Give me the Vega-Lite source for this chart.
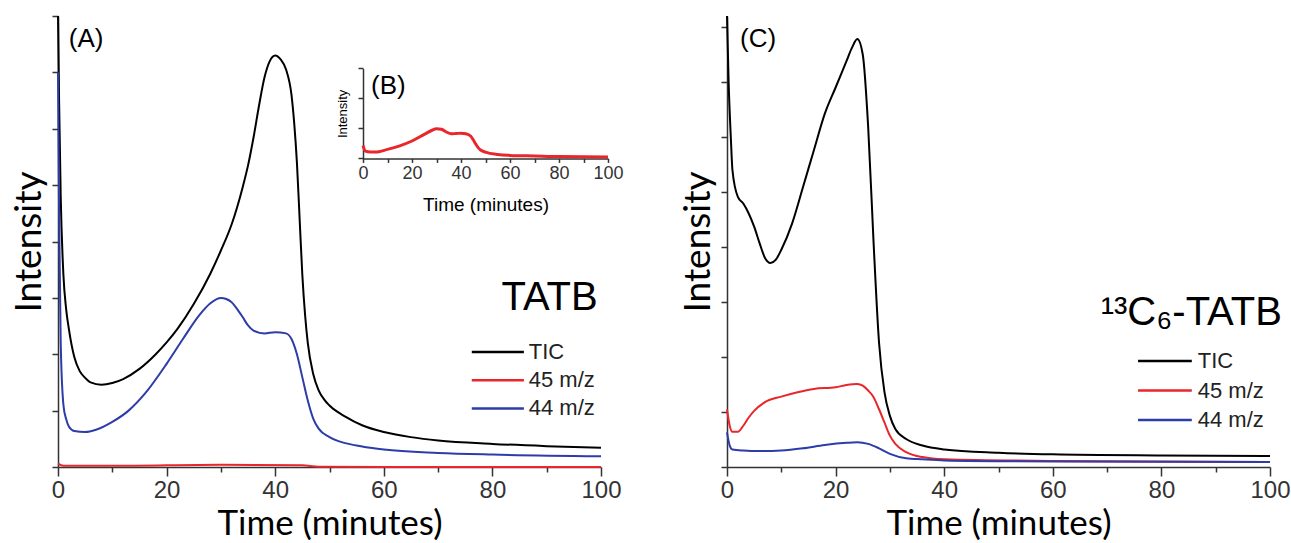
{
  "$schema": "https://vega.github.io/schema/vega-lite/v6.json",
  "background": "white",
  "padding": {"left": 10, "top": 12, "right": 0, "bottom": 0},
  "config": {
    "view": {"stroke": null},
    "axis": {"domainColor": "#333", "tickColor": "#333", "labelColor": "#333", "titleColor": "#000", "grid": false, "titleFontWeight": "normal", "domainWidth": 1.5, "tickWidth": 1.5, "labelFlush": false},
    "text": {"font": "Liberation Sans", "color": "#000"}
  },
  "datasets": {
    "A": [
      {"s": "TIC", "t": 0, "v": 8.0}, {"s": "TIC", "t": 0.2, "v": 6.5}, {"s": "TIC", "t": 0.5, "v": 4.8}, {"s": "TIC", "t": 1, "v": 3.4}, {"s": "TIC", "t": 1.5, "v": 2.8}, {"s": "TIC", "t": 2, "v": 2.45}, {"s": "TIC", "t": 3, "v": 1.95}, {"s": "TIC", "t": 4, "v": 1.7}, {"s": "TIC", "t": 5, "v": 1.58}, {"s": "TIC", "t": 6, "v": 1.5}, {"s": "TIC", "t": 8, "v": 1.46}, {"s": "TIC", "t": 10, "v": 1.49}, {"s": "TIC", "t": 12, "v": 1.56}, {"s": "TIC", "t": 15, "v": 1.74}, {"s": "TIC", "t": 18, "v": 2.0}, {"s": "TIC", "t": 20, "v": 2.21}, {"s": "TIC", "t": 22, "v": 2.45}, {"s": "TIC", "t": 25, "v": 2.89}, {"s": "TIC", "t": 28, "v": 3.42}, {"s": "TIC", "t": 30, "v": 3.84}, {"s": "TIC", "t": 32, "v": 4.31}, {"s": "TIC", "t": 34, "v": 4.96}, {"s": "TIC", "t": 35, "v": 5.35}, {"s": "TIC", "t": 36, "v": 5.84}, {"s": "TIC", "t": 37, "v": 6.4}, {"s": "TIC", "t": 38, "v": 6.9}, {"s": "TIC", "t": 39, "v": 7.2}, {"s": "TIC", "t": 40, "v": 7.3}, {"s": "TIC", "t": 41, "v": 7.23}, {"s": "TIC", "t": 42, "v": 7.05}, {"s": "TIC", "t": 43, "v": 6.6}, {"s": "TIC", "t": 43.5, "v": 6.1}, {"s": "TIC", "t": 44, "v": 5.4}, {"s": "TIC", "t": 44.5, "v": 4.4}, {"s": "TIC", "t": 45, "v": 3.4}, {"s": "TIC", "t": 45.5, "v": 2.7}, {"s": "TIC", "t": 46, "v": 2.2}, {"s": "TIC", "t": 47, "v": 1.65}, {"s": "TIC", "t": 48, "v": 1.36}, {"s": "TIC", "t": 49, "v": 1.2}, {"s": "TIC", "t": 50, "v": 1.09}, {"s": "TIC", "t": 53, "v": 0.89}, {"s": "TIC", "t": 56, "v": 0.74}, {"s": "TIC", "t": 60, "v": 0.62}, {"s": "TIC", "t": 65, "v": 0.53}, {"s": "TIC", "t": 70, "v": 0.47}, {"s": "TIC", "t": 80, "v": 0.41}, {"s": "TIC", "t": 90, "v": 0.37}, {"s": "TIC", "t": 100, "v": 0.34},
      {"s": "45 m/z", "t": 0, "v": 0.06}, {"s": "45 m/z", "t": 1, "v": 0.02}, {"s": "45 m/z", "t": 10, "v": 0.02}, {"s": "45 m/z", "t": 30, "v": 0.04}, {"s": "45 m/z", "t": 45, "v": 0.03}, {"s": "45 m/z", "t": 48, "v": 0.005}, {"s": "45 m/z", "t": 60, "v": 0}, {"s": "45 m/z", "t": 100, "v": 0},
      {"s": "44 m/z", "t": 0, "v": 7.0}, {"s": "44 m/z", "t": 0.2, "v": 4.5}, {"s": "44 m/z", "t": 0.5, "v": 2.2}, {"s": "44 m/z", "t": 1, "v": 1.1}, {"s": "44 m/z", "t": 1.5, "v": 0.85}, {"s": "44 m/z", "t": 2, "v": 0.72}, {"s": "44 m/z", "t": 3, "v": 0.64}, {"s": "44 m/z", "t": 5, "v": 0.62}, {"s": "44 m/z", "t": 7, "v": 0.66}, {"s": "44 m/z", "t": 10, "v": 0.8}, {"s": "44 m/z", "t": 13, "v": 1.0}, {"s": "44 m/z", "t": 16, "v": 1.3}, {"s": "44 m/z", "t": 20, "v": 1.83}, {"s": "44 m/z", "t": 23, "v": 2.27}, {"s": "44 m/z", "t": 26, "v": 2.69}, {"s": "44 m/z", "t": 28, "v": 2.9}, {"s": "44 m/z", "t": 30, "v": 3.0}, {"s": "44 m/z", "t": 31, "v": 2.98}, {"s": "44 m/z", "t": 32, "v": 2.92}, {"s": "44 m/z", "t": 33, "v": 2.8}, {"s": "44 m/z", "t": 34, "v": 2.66}, {"s": "44 m/z", "t": 35, "v": 2.51}, {"s": "44 m/z", "t": 36, "v": 2.42}, {"s": "44 m/z", "t": 38, "v": 2.37}, {"s": "44 m/z", "t": 40, "v": 2.39}, {"s": "44 m/z", "t": 42, "v": 2.37}, {"s": "44 m/z", "t": 43, "v": 2.27}, {"s": "44 m/z", "t": 44, "v": 2.0}, {"s": "44 m/z", "t": 45, "v": 1.59}, {"s": "44 m/z", "t": 46, "v": 1.18}, {"s": "44 m/z", "t": 47, "v": 0.86}, {"s": "44 m/z", "t": 48, "v": 0.68}, {"s": "44 m/z", "t": 50, "v": 0.53}, {"s": "44 m/z", "t": 55, "v": 0.38}, {"s": "44 m/z", "t": 60, "v": 0.31}, {"s": "44 m/z", "t": 70, "v": 0.25}, {"s": "44 m/z", "t": 80, "v": 0.22}, {"s": "44 m/z", "t": 100, "v": 0.19}
    ],
    "B": [
      {"t": 0, "v": 0.43}, {"t": 1, "v": 0.24}, {"t": 3, "v": 0.21}, {"t": 5, "v": 0.21}, {"t": 10, "v": 0.3}, {"t": 15, "v": 0.42}, {"t": 20, "v": 0.58}, {"t": 25, "v": 0.8}, {"t": 28, "v": 0.93}, {"t": 30, "v": 0.99}, {"t": 32, "v": 0.97}, {"t": 34, "v": 0.88}, {"t": 36, "v": 0.82}, {"t": 38, "v": 0.83}, {"t": 40, "v": 0.84}, {"t": 42, "v": 0.82}, {"t": 44, "v": 0.74}, {"t": 45, "v": 0.62}, {"t": 46, "v": 0.48}, {"t": 47, "v": 0.36}, {"t": 48, "v": 0.28}, {"t": 50, "v": 0.21}, {"t": 55, "v": 0.13}, {"t": 60, "v": 0.1}, {"t": 70, "v": 0.08}, {"t": 80, "v": 0.06}, {"t": 100, "v": 0.05}
    ],
    "C": [
      {"s": "TIC", "t": 0, "v": 8.2}, {"s": "TIC", "t": 0.3, "v": 7.0}, {"s": "TIC", "t": 0.7, "v": 6.0}, {"s": "TIC", "t": 1, "v": 5.4}, {"s": "TIC", "t": 2, "v": 4.91}, {"s": "TIC", "t": 3, "v": 4.79}, {"s": "TIC", "t": 4, "v": 4.61}, {"s": "TIC", "t": 5, "v": 4.37}, {"s": "TIC", "t": 6, "v": 4.07}, {"s": "TIC", "t": 7, "v": 3.8}, {"s": "TIC", "t": 8, "v": 3.71}, {"s": "TIC", "t": 9, "v": 3.77}, {"s": "TIC", "t": 10, "v": 3.95}, {"s": "TIC", "t": 12, "v": 4.43}, {"s": "TIC", "t": 14, "v": 5.09}, {"s": "TIC", "t": 16, "v": 5.76}, {"s": "TIC", "t": 18, "v": 6.42}, {"s": "TIC", "t": 20, "v": 6.9}, {"s": "TIC", "t": 22, "v": 7.38}, {"s": "TIC", "t": 23, "v": 7.62}, {"s": "TIC", "t": 24, "v": 7.78}, {"s": "TIC", "t": 25, "v": 7.5}, {"s": "TIC", "t": 26, "v": 6.18}, {"s": "TIC", "t": 27, "v": 4.07}, {"s": "TIC", "t": 28, "v": 2.26}, {"s": "TIC", "t": 29, "v": 1.36}, {"s": "TIC", "t": 30, "v": 0.93}, {"s": "TIC", "t": 31, "v": 0.69}, {"s": "TIC", "t": 33, "v": 0.51}, {"s": "TIC", "t": 36, "v": 0.39}, {"s": "TIC", "t": 40, "v": 0.32}, {"s": "TIC", "t": 50, "v": 0.26}, {"s": "TIC", "t": 60, "v": 0.23}, {"s": "TIC", "t": 80, "v": 0.21}, {"s": "TIC", "t": 100, "v": 0.2},
      {"s": "45 m/z", "t": 0, "v": 1.05}, {"s": "45 m/z", "t": 0.5, "v": 0.75}, {"s": "45 m/z", "t": 1, "v": 0.64}, {"s": "45 m/z", "t": 2, "v": 0.64}, {"s": "45 m/z", "t": 3, "v": 0.75}, {"s": "45 m/z", "t": 4, "v": 0.9}, {"s": "45 m/z", "t": 5, "v": 1.02}, {"s": "45 m/z", "t": 7, "v": 1.18}, {"s": "45 m/z", "t": 10, "v": 1.28}, {"s": "45 m/z", "t": 13, "v": 1.36}, {"s": "45 m/z", "t": 16, "v": 1.42}, {"s": "45 m/z", "t": 20, "v": 1.45}, {"s": "45 m/z", "t": 22, "v": 1.49}, {"s": "45 m/z", "t": 24, "v": 1.51}, {"s": "45 m/z", "t": 25, "v": 1.48}, {"s": "45 m/z", "t": 26, "v": 1.39}, {"s": "45 m/z", "t": 27, "v": 1.27}, {"s": "45 m/z", "t": 28, "v": 1.05}, {"s": "45 m/z", "t": 29, "v": 0.81}, {"s": "45 m/z", "t": 30, "v": 0.57}, {"s": "45 m/z", "t": 31, "v": 0.42}, {"s": "45 m/z", "t": 33, "v": 0.27}, {"s": "45 m/z", "t": 36, "v": 0.18}, {"s": "45 m/z", "t": 40, "v": 0.14}, {"s": "45 m/z", "t": 60, "v": 0.11}, {"s": "45 m/z", "t": 100, "v": 0.09},
      {"s": "44 m/z", "t": 0, "v": 0.63}, {"s": "44 m/z", "t": 0.5, "v": 0.39}, {"s": "44 m/z", "t": 1, "v": 0.32}, {"s": "44 m/z", "t": 3, "v": 0.3}, {"s": "44 m/z", "t": 6, "v": 0.29}, {"s": "44 m/z", "t": 10, "v": 0.3}, {"s": "44 m/z", "t": 14, "v": 0.34}, {"s": "44 m/z", "t": 18, "v": 0.4}, {"s": "44 m/z", "t": 22, "v": 0.44}, {"s": "44 m/z", "t": 24, "v": 0.45}, {"s": "44 m/z", "t": 26, "v": 0.42}, {"s": "44 m/z", "t": 28, "v": 0.34}, {"s": "44 m/z", "t": 30, "v": 0.24}, {"s": "44 m/z", "t": 33, "v": 0.16}, {"s": "44 m/z", "t": 36, "v": 0.14}, {"s": "44 m/z", "t": 40, "v": 0.12}, {"s": "44 m/z", "t": 60, "v": 0.1}, {"s": "44 m/z", "t": 100, "v": 0.09}
    ],
    "series": [{"s": "TIC"}, {"s": "45 m/z"}, {"s": "44 m/z"}]
  },
  "spacing": 126,
  "bounds": "flush",
  "hconcat": [
    {
      "width": 543,
      "height": 451,
      "layer": [
        {
          "layer": [
            {
              "data": {"name": "A"},
              "mark": {"type": "line", "strokeWidth": 2, "interpolate": "monotone"},
              "encoding": {
                "x": {"field": "t", "type": "quantitative", "scale": {"domain": [0, 100], "nice": false},
                  "axis": {"title": "Time (minutes)", "values": [0, 10, 20, 30, 40, 50, 60, 70, 80, 90, 100], "labelExpr": "datum.value % 20 === 0 ? datum.label : ''", "tickSize": {"condition": {"test": "datum.value % 20 === 0", "value": 9}, "value": 5}, "labelFont": "Liberation Sans", "labelFontSize": 24, "labelPadding": 2, "titleFont": "Lato", "titleFontSize": 35, "titlePadding": 4}},
                "y": {"field": "v", "type": "quantitative", "scale": {"domain": [0, 8], "nice": false},
                  "axis": {"title": "Intensity", "values": [0, 1, 2, 3, 4, 5, 6, 7, 8], "labels": false, "tickSize": 6, "titleFont": "Lato", "titleFontSize": 37, "titlePadding": 3}},
                "color": {"field": "s", "type": "nominal", "scale": {"domain": ["TIC", "45 m/z", "44 m/z"], "range": ["#000000", "#e8262b", "#2c3ca8"]}, "legend": null}
              }
            },
            {
              "data": {"values": [{}]},
              "mark": {"type": "text", "fontSize": 26, "align": "left", "baseline": "middle"},
              "encoding": {"x": {"datum": 2}, "y": {"datum": 7.6}, "text": {"value": "(A)"}}
            },
            {
              "data": {"values": [{}]},
              "mark": {"type": "text", "fontSize": 40, "align": "right", "baseline": "middle"},
              "encoding": {"x": {"datum": 99.4}, "y": {"datum": 2.99}, "text": {"value": "TATB"}}
            }
          ]
        },
        {
          "layer": [
            {
              "data": {"name": "B"},
              "mark": {"type": "line", "strokeWidth": 3, "color": "#e8262b", "interpolate": "monotone"},
              "encoding": {
                "x": {"field": "t", "type": "quantitative", "scale": {"domain": [0, 100], "range": [305, 550], "nice": false},
                  "axis": {"orient": "bottom", "offset": -308.6, "title": "Time (minutes)", "values": [0, 10, 20, 30, 40, 50, 60, 70, 80, 90, 100], "labelExpr": "datum.value % 20 === 0 ? datum.label : ''", "tickSize": 4, "labelFont": "Liberation Sans", "labelFontSize": 18, "labelPadding": 2, "titleFont": "Liberation Sans", "titleFontSize": 19, "titlePadding": 13}},
                "y": {"field": "v", "type": "quantitative", "scale": {"domain": [0, 3], "range": [142.4, 52.4], "nice": false},
                  "axis": {"orient": "left", "offset": -305, "title": "Intensity", "values": [0, 1, 2, 3], "labels": false, "tickSize": 5, "titleFont": "Liberation Sans", "titleFontSize": 13, "titlePadding": 8}}
              }
            },
            {
              "data": {"values": [{}]},
              "mark": {"type": "text", "fontSize": 26, "align": "left", "baseline": "middle"},
              "encoding": {"x": {"datum": 3.3}, "y": {"datum": 2.4}, "text": {"value": "(B)"}}
            }
          ]
        },
        {
          "data": {"name": "series"},
          "encoding": {
            "y": {"field": "s", "type": "nominal", "sort": null, "scale": {"type": "point", "padding": 0, "domain": ["TIC", "45 m/z", "44 m/z"], "range": [336.1, 392.4]}, "axis": null},
            "color": {"field": "s", "type": "nominal", "scale": {"domain": ["TIC", "45 m/z", "44 m/z"], "range": ["#000000", "#e8262b", "#2c3ca8"]}, "legend": null}
          },
          "layer": [
            {
              "mark": {"type": "rule", "strokeWidth": 2.5},
              "encoding": {
                "x": {"datum": 76.2, "scale": {"domain": [0, 100], "nice": false}, "axis": null},
                "x2": {"datum": 85.8}
              }
            },
            {
              "mark": {"type": "text", "fontSize": 22, "align": "left", "baseline": "middle", "color": "#222"},
              "encoding": {
                "x": {"datum": 86.7, "scale": {"domain": [0, 100], "nice": false}, "axis": null},
                "text": {"field": "s"},
                "color": {"value": "#222"}
              }
            }
          ]
        }
      ],
      "resolve": {"scale": {"x": "independent", "y": "independent"}}
    },
    {
      "width": 543,
      "height": 451,
      "layer": [
        {
          "layer": [
            {
              "data": {"name": "C"},
              "mark": {"type": "line", "strokeWidth": 2, "interpolate": "monotone"},
              "encoding": {
                "x": {"field": "t", "type": "quantitative", "scale": {"domain": [0, 100], "nice": false},
                  "axis": {"title": "Time (minutes)", "values": [0, 10, 20, 30, 40, 50, 60, 70, 80, 90, 100], "labelExpr": "datum.value % 20 === 0 ? datum.label : ''", "tickSize": {"condition": {"test": "datum.value % 20 === 0", "value": 9}, "value": 5}, "labelFont": "Liberation Sans", "labelFontSize": 24, "labelPadding": 2, "titleFont": "Lato", "titleFontSize": 35, "titlePadding": 4}},
                "y": {"field": "v", "type": "quantitative", "scale": {"domain": [0, 8.2], "nice": false},
                  "axis": {"title": "Intensity", "values": [0, 1, 2, 3, 4, 5, 6, 7, 8], "labels": false, "tickSize": 6, "titleFont": "Lato", "titleFontSize": 37, "titlePadding": 3}},
                "color": {"field": "s", "type": "nominal", "scale": {"domain": ["TIC", "45 m/z", "44 m/z"], "range": ["#000000", "#e8262b", "#2c3ca8"]}, "legend": null}
              }
            },
            {
              "data": {"values": [{}]},
              "mark": {"type": "text", "fontSize": 26, "align": "left", "baseline": "middle"},
              "encoding": {"x": {"datum": 2.4}, "y": {"datum": 7.78}, "text": {"value": "(C)"}}
            },
            {
              "data": {"values": [{}]},
              "mark": {"type": "text", "fontSize": 40, "align": "right", "baseline": "middle"},
              "encoding": {"x": {"datum": 102.2}, "y": {"datum": 2.8}, "text": {"value": "¹³C₆-TATB"}}
            }
          ]
        },
        {
          "data": {"name": "series"},
          "encoding": {
            "y": {"field": "s", "type": "nominal", "sort": null, "scale": {"type": "point", "padding": 0, "domain": ["TIC", "45 m/z", "44 m/z"], "range": [345, 404]}, "axis": null},
            "color": {"field": "s", "type": "nominal", "scale": {"domain": ["TIC", "45 m/z", "44 m/z"], "range": ["#000000", "#e8262b", "#2c3ca8"]}, "legend": null}
          },
          "layer": [
            {
              "mark": {"type": "rule", "strokeWidth": 2.5},
              "encoding": {
                "x": {"datum": 75.7, "scale": {"domain": [0, 100], "nice": false}, "axis": null},
                "x2": {"datum": 85.6}
              }
            },
            {
              "mark": {"type": "text", "fontSize": 22, "align": "left", "baseline": "middle", "color": "#222"},
              "encoding": {
                "x": {"datum": 86.7, "scale": {"domain": [0, 100], "nice": false}, "axis": null},
                "text": {"field": "s"},
                "color": {"value": "#222"}
              }
            }
          ]
        }
      ],
      "resolve": {"scale": {"x": "independent", "y": "independent"}}
    }
  ],
  "resolve": {"scale": {"color": "independent"}}
}
